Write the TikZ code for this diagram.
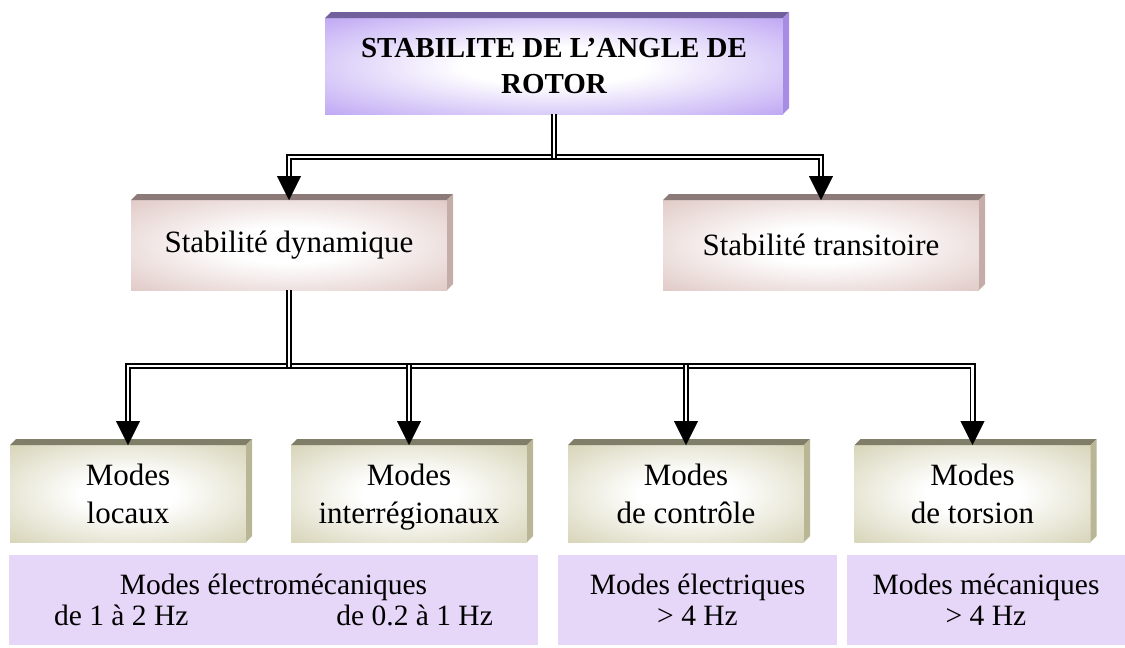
\documentclass[tikz,border=0pt]{standalone}
\usepackage{fontspec}
\setmainfont{Liberation Serif}
\usetikzlibrary{positioning,calc,arrows.meta}

\definecolor{rootFace}{RGB}{180,153,242}
\definecolor{rootTop}{RGB}{112,96,156}
\definecolor{rootSide}{RGB}{166,140,226}
\definecolor{dynFace}{RGB}{219,193,189}
\definecolor{dynTop}{RGB}{139,122,120}
\definecolor{dynSide}{RGB}{196,172,168}
\definecolor{modeFace}{RGB}{208,205,172}
\definecolor{modeTop}{RGB}{128,126,104}
\definecolor{modeSide}{RGB}{185,182,150}
\definecolor{noteFill}{RGB}{230,214,248}

\pgfdeclareradialshading{glowRoot}{\pgfpoint{0bp}{0bp}}{color(0bp)=(white); color(10bp)=(white); color(40bp)=(rootFace); color(50bp)=(rootFace)}
\pgfdeclareradialshading{glowDyn}{\pgfpoint{0bp}{0bp}}{color(0bp)=(white); color(10bp)=(white); color(40bp)=(dynFace); color(50bp)=(dynFace)}
\pgfdeclareradialshading{glowMode}{\pgfpoint{0bp}{0bp}}{color(0bp)=(white); color(10bp)=(white); color(40bp)=(modeFace); color(50bp)=(modeFace)}

\begin{document}
\begin{tikzpicture}
  [x=1pt,y=-1pt,
   slab/.style={rectangle,outer sep=0pt,inner sep=0pt,align=center},
   rootN/.style={slab,shade,shading=glowRoot,minimum width=458pt,minimum height=96pt,
                 font=\fontsize{29}{36}\selectfont\bfseries},
   dynN/.style={slab,shade,shading=glowDyn,minimum width=316pt,minimum height=90pt,
                font=\fontsize{31}{37}\selectfont},
   modeN/.style={slab,shade,shading=glowMode,minimum width=236pt,minimum height=97pt,
                 text depth=0pt,font=\fontsize{31}{38}\selectfont},
   noteN/.style={slab,fill=noteFill,minimum height=90pt,
                 font=\fontsize{29.5}{31}\selectfont},
   dbl/.style={double,double distance=2.4pt,line width=1.8pt},
   tip/.style={-{Triangle[width=24pt,length=24pt]},line width=0.4pt}]

  \useasboundingbox (0,0) rectangle (1125,648);

  % boxes
  \node[rootN] (root) at (554,66) {STABILITE DE L’ANGLE DE\\ROTOR};

  \node[dynN] (dyn) at (289,245) {Stabilité dynamique};
  \node[dynN] (trans) [right=216pt of dyn] {Stabilité transitoire};

  \node[modeN] (loc) at (128,493.5) {Modes\\locaux};
  \node[modeN] (inter) [right=45pt of loc] {Modes\\interrégionaux};
  \node[modeN] (ctrl) [right=41pt of inter] {Modes\\de contrôle};
  \node[modeN] (tors) [right=50.5pt of ctrl] {Modes\\de torsion};

  \node[noteN,minimum width=529pt] (elm) at (273.5,600)
    {Modes électromécaniques\\de 1 à 2 Hz\hspace{148pt}de 0.2 à 1 Hz};
  \node[noteN,minimum width=279pt] (ele) [right=20pt of elm] {Modes électriques\\> 4 Hz};
  \node[noteN,minimum width=278pt] (mec) [right=10pt of ele] {Modes mécaniques\\> 4 Hz};

  % 3D edges
  \foreach \n/\t/\s in {root/rootTop/rootSide, dyn/dynTop/dynSide, trans/dynTop/dynSide,
                        loc/modeTop/modeSide, inter/modeTop/modeSide,
                        ctrl/modeTop/modeSide, tors/modeTop/modeSide}{
    \fill[\t] (\n.north west) -- ([shift={(6,-6)}]\n.north west)
      -- ([shift={(6,-6)}]\n.north east) -- (\n.north east) -- cycle;
    \fill[\s] (\n.north east) -- ([shift={(6,-6)}]\n.north east)
      -- ([shift={(6,-6)}]\n.south east) -- (\n.south east) -- cycle;
  }

  % connectors
  \coordinate (j1) at ($(root.south)+(0,43)$);
  \draw[dbl,shorten <=24pt,shorten >=24pt] (dyn.north) |- (j1) -| (trans.north);
  \draw[dbl] (root.south) -- ($(j1)+(0,1.2)$);

  \coordinate (j2) at ($(dyn.south)+(0,76)$);
  \draw[dbl,shorten <=24pt,shorten >=24pt] (loc.north) |- (j2) -| (tors.north);
  \draw[dbl] (dyn.south) -- ($(j2)+(0,1.2)$);
  \draw[dbl,shorten >=24pt] ($(inter.north |- j2)+(0,-1.2)$) -- (inter.north);
  \draw[dbl,shorten >=24pt] ($(ctrl.north |- j2)+(0,-1.2)$) -- (ctrl.north);

  \foreach \n in {dyn,trans,loc,inter,ctrl,tors}
    \draw[tip] ($(\n.north)+(0,-24)$) -- (\n.north);

\end{tikzpicture}
\end{document}
